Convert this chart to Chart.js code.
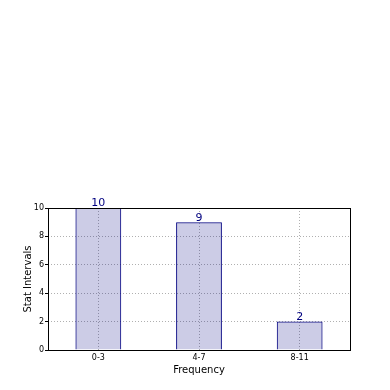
<!DOCTYPE html>
<html>
<head>
<meta charset="utf-8">
<script src="https://cdn.jsdelivr.net/npm/chart.js@4"></script>
<style>
  html, body { margin: 0; padding: 0; background: #fff; }
  #wrap { width: 390px; height: 390px; }
</style>
</head>
<body>
<div id="wrap"><canvas id="myChart" width="390" height="390"></canvas></div>
<script>
// data
const categories = ["0-3", "4-7", "8-11"];
const counts = [10, 9, 2];
const yTicks = [0, 2, 4, 6, 8, 10];

// colors
const barFill = "rgba(0, 0, 128, 0.2)";
const barEdge = "#000080";
const gridColor = "#b0b0b0";

// value labels above bars + frame
const labelPlugin = {
    id: "barLabels",
    afterDraw(chart) {
        const a = chart.chartArea;
        const ctx = chart.ctx;
        const meta = chart.getDatasetMeta(0);
        ctx.save();
        ctx.fillStyle = barEdge;
        ctx.font = "11px 'DejaVu Sans'";
        ctx.textAlign = "center";
        ctx.textBaseline = "bottom";
        meta.data.forEach((bar, i) => {
            ctx.fillText(String(counts[i]), bar.x, bar.y + 1);
        });
        ctx.strokeStyle = "#000";
        ctx.lineWidth = 1;
        ctx.strokeRect(Math.round(a.left) + 0.5, Math.round(a.top) + 0.5,
            Math.round(a.right - a.left), Math.round(a.bottom - a.top));
        ctx.restore();
    }
};

new Chart(document.getElementById("myChart"), {
    type: "bar",
    data: {
        labels: categories,
        datasets: [{
            data: counts,
            backgroundColor: barFill,
            borderColor: barEdge,
            borderWidth: 1,
            categoryPercentage: 1,
            barPercentage: 0.455
        }]
    },
    options: {
        responsive: false,
        animation: false,
        layout: { padding: { left: 22, top: 208, right: 40, bottom: 14 } },
        plugins: {
            legend: { display: false },
            tooltip: { enabled: false }
        },
        scales: {
            x: {
                grid: {
                    offset: false,
                    color: gridColor,
                    drawTicks: false
                },
                border: { display: false, dash: [1, 2] },
                ticks: {
                    color: "#000",
                    font: { family: "DejaVu Sans", size: 8 },
                    padding: 3,
                    maxRotation: 0
                },
                title: {
                    display: true,
                    text: "Frequency",
                    color: "#000",
                    font: { family: "DejaVu Sans", size: 10 },
                    padding: 0
                },
                afterFit(scale) { scale.height = 26; }
            },
            y: {
                min: 0,
                max: 10,
                afterBuildTicks(scale) {
                    scale.ticks = yTicks.map(v => ({ value: v }));
                },
                grid: {
                    color: gridColor,
                    drawTicks: true,
                    tickLength: 3,
                    tickColor: "#000",
                    tickBorderDash: []
                },
                border: { display: false, dash: [1, 2] },
                ticks: {
                    color: "#000",
                    font: { family: "DejaVu Sans", size: 8 },
                    padding: 1
                },
                title: {
                    display: true,
                    text: "Stat Intervals",
                    color: "#000",
                    font: { family: "DejaVu Sans", size: 10 },
                    padding: 0
                },
                afterFit(scale) { scale.width = 26; }
            }
        }
    },
    plugins: [labelPlugin]
});
</script>
</body>
</html>
